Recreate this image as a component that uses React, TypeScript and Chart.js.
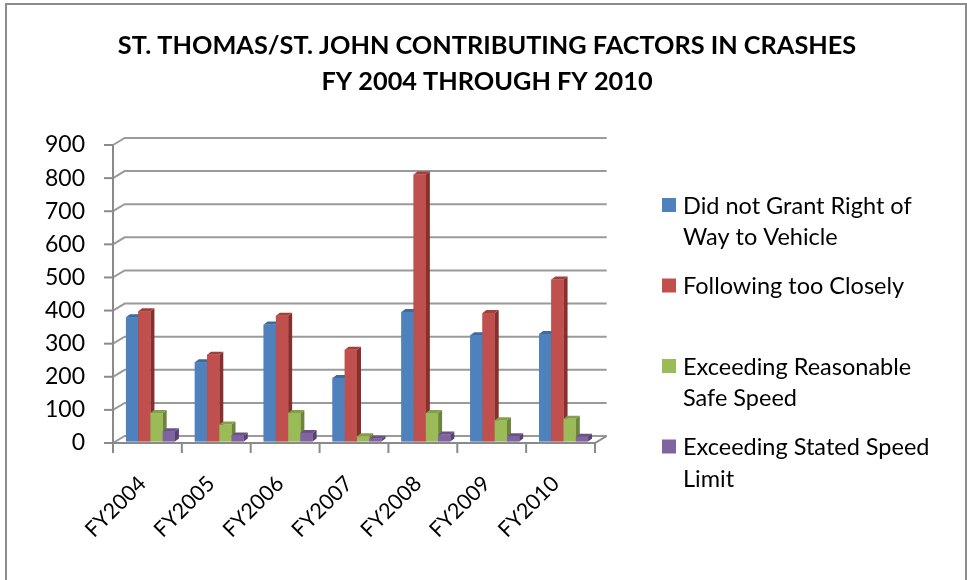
import React, { useEffect, useRef } from "react";
import { Chart, registerables } from "chart.js";

Chart.register(...registerables);

const titleLines = [
  "ST. THOMAS/ST. JOHN CONTRIBUTING FACTORS IN CRASHES",
  "FY 2004 THROUGH FY 2010",
];
const categories = ["FY2004", "FY2005", "FY2006", "FY2007", "FY2008", "FY2009", "FY2010"];
const seriesNames = [
  "Did not Grant Right of Way to Vehicle",
  "Following too Closely",
  "Exceeding Reasonable Safe Speed",
  "Exceeding Stated Speed Limit",
];
const didNotGrantRightOfWay = [375, 239, 353, 192, 391, 321, 325];
const followingTooClosely = [393, 262, 380, 277, 806, 388, 489];
const exceedingReasonableSpeed = [86, 51, 86, 16, 86, 64, 69];
const exceedingStatedSpeed = [31, 18, 26, 8, 21, 16, 14];
const yMin = 0;
const yMax = 900;
const yStep = 100;

const seriesValues = [
  didNotGrantRightOfWay,
  followingTooClosely,
  exceedingReasonableSpeed,
  exceedingStatedSpeed,
];
const frontColors = ["#4F81BD", "#C0504D", "#9BBB59", "#8064A2"];
const sideColors = ["#34557F", "#86302E", "#6B853A", "#574372"];
const topColors = ["#41699C", "#A23F3C", "#83A048", "#6A5289"];

const FONT = "Lato, 'Open Sans', sans-serif";
const WALL_DX = 11.7;
const WALL_DY = 7;
const BAR_DX = 4;
const BAR_DY = 3;
const SHIFT_X = 3;
const SHIFT_Y = -1.5;

function wrapText(ctx: CanvasRenderingContext2D, text: string, maxW: number): string[] {
  const words = text.split(" ");
  const lines: string[] = [];
  let cur = "";
  for (const w of words) {
    const test = cur ? cur + " " + w : w;
    if (cur && ctx.measureText(test).width > maxW) {
      lines.push(cur);
      cur = w;
    } else {
      cur = test;
    }
  }
  if (cur) lines.push(cur);
  return lines;
}

const decorPlugin = {
  id: "decor3d",
  beforeDatasetsDraw(chart: any) {
    const { ctx, chartArea, scales } = chart;
    const ys = scales.y;
    const L = chartArea.left;
    const R = chartArea.right;
    const p0 = ys.getPixelForValue(yMin);
    const pTop = ys.getPixelForValue(yMax);
    ctx.save();
    ctx.lineCap = "butt";
    ctx.strokeStyle = "#9a9a9a";
    ctx.lineWidth = 2;
    ys.ticks.forEach((t: any) => {
      const py = ys.getPixelForValue(t.value);
      ctx.beginPath();
      ctx.moveTo(L, py);
      ctx.lineTo(L + WALL_DX, py - WALL_DY);
      ctx.lineTo(R + WALL_DX, py - WALL_DY);
      ctx.stroke();
    });
    ctx.strokeStyle = "#8a8a8a";
    ctx.beginPath();
    ctx.moveTo(L, p0);
    ctx.lineTo(R, p0);
    ctx.lineTo(R + WALL_DX, p0 - WALL_DY);
    ctx.stroke();
    ctx.beginPath();
    ctx.moveTo(L, pTop);
    ctx.lineTo(L, p0 + 10);
    ctx.stroke();
    ys.ticks.forEach((t: any) => {
      const py = ys.getPixelForValue(t.value);
      ctx.beginPath();
      ctx.moveTo(L - 9, py);
      ctx.lineTo(L, py);
      ctx.stroke();
    });
    const n = categories.length;
    for (let i = 0; i <= n; i++) {
      const px = L + ((R - L) * i) / n;
      ctx.beginPath();
      ctx.moveTo(px, p0);
      ctx.lineTo(px, p0 + 10);
      ctx.stroke();
    }
    ctx.restore();
    ctx.save();
    ctx.translate(SHIFT_X, SHIFT_Y);
  },
  afterDatasetsDraw(chart: any) {
    const { ctx } = chart;
    chart.data.datasets.forEach((ds: any, di: number) => {
      const meta = chart.getDatasetMeta(di);
      meta.data.forEach((bar: any) => {
        const { x, y, base, width } = bar.getProps(["x", "y", "base", "width"], true);
        const l = x - width / 2;
        const r = x + width / 2;
        ctx.fillStyle = sideColors[di];
        ctx.beginPath();
        ctx.moveTo(r, y);
        ctx.lineTo(r + BAR_DX, y - BAR_DY);
        ctx.lineTo(r + BAR_DX, base - BAR_DY);
        ctx.lineTo(r, base);
        ctx.closePath();
        ctx.fill();
        ctx.fillStyle = topColors[di];
        ctx.beginPath();
        ctx.moveTo(l, y);
        ctx.lineTo(l + BAR_DX, y - BAR_DY);
        ctx.lineTo(r + BAR_DX, y - BAR_DY);
        ctx.lineTo(r, y);
        ctx.closePath();
        ctx.fill();
        ctx.fillStyle = frontColors[di];
        ctx.fillRect(l, y, width, base - y);
      });
    });
    ctx.restore();
  },
  afterDraw(chart: any) {
    const { ctx } = chart;
    ctx.save();
    ctx.strokeStyle = "#8c8c8c";
    ctx.lineWidth = 2;
    ctx.strokeRect(6, 4, 960, 620);
    ctx.fillStyle = "#000";
    ctx.textAlign = "center";
    ctx.textBaseline = "middle";
    ctx.font = `bold 25.3px ${FONT}`;
    titleLines.forEach((t, i) => ctx.fillText(t, 487, 46 + i * 35.5));
    ctx.textAlign = "left";
    ctx.font = `23.5px ${FONT}`;
    seriesNames.forEach((name, i) => {
      const yc = 205 + i * 80.5;
      ctx.fillStyle = frontColors[i];
      ctx.fillRect(662, yc - 7, 14, 14);
      ctx.fillStyle = "#000";
      const lines = wrapText(ctx, name, 262);
      lines.forEach((ln, j) => ctx.fillText(ln, 683, yc + 1 + j * 31.7));
    });
    ctx.restore();
  },
};

export default function App() {
  const ref = useRef<HTMLCanvasElement | null>(null);
  useEffect(() => {
    if (!ref.current) return;
    const chart = new Chart(ref.current, {
      type: "bar",
      data: {
        labels: categories,
        datasets: seriesNames.map((name, i) => ({
          label: name,
          data: seriesValues[i],
          backgroundColor: frontColors[i],
          borderWidth: 0,
          barPercentage: 1,
          categoryPercentage: 0.711,
        })),
      },
      options: {
        responsive: false,
        animation: false,
        devicePixelRatio: 1,
        layout: { padding: { left: 0, right: 372, top: 145, bottom: 0 } },
        plugins: {
          legend: { display: false },
          title: { display: false },
          tooltip: { enabled: false },
        },
        scales: {
          x: {
            grid: { display: false },
            border: { display: false },
            ticks: {
              color: "#000",
              font: { family: FONT, size: 21.5 },
              minRotation: 45,
              maxRotation: 45,
              padding: 20,
              labelOffset: -5,
              autoSkip: false,
            },
            afterFit: (s: any) => {
              s.height = 137;
            },
          },
          y: {
            min: yMin,
            max: yMax,
            grid: { display: false },
            border: { display: false },
            ticks: {
              stepSize: yStep,
              color: "#000",
              font: { family: FONT, size: 23 },
              padding: 20,
            },
            afterFit: (s: any) => {
              s.width = 113;
            },
          },
        },
      },
      plugins: [decorPlugin],
    });
    return () => chart.destroy();
  }, []);
  return (
    <div style={{ position: "fixed", left: 0, top: 0, width: 967, height: 580, background: "#fff" }}>
      <canvas ref={ref} width={967} height={580} style={{ display: "block" }} />
    </div>
  );
}
